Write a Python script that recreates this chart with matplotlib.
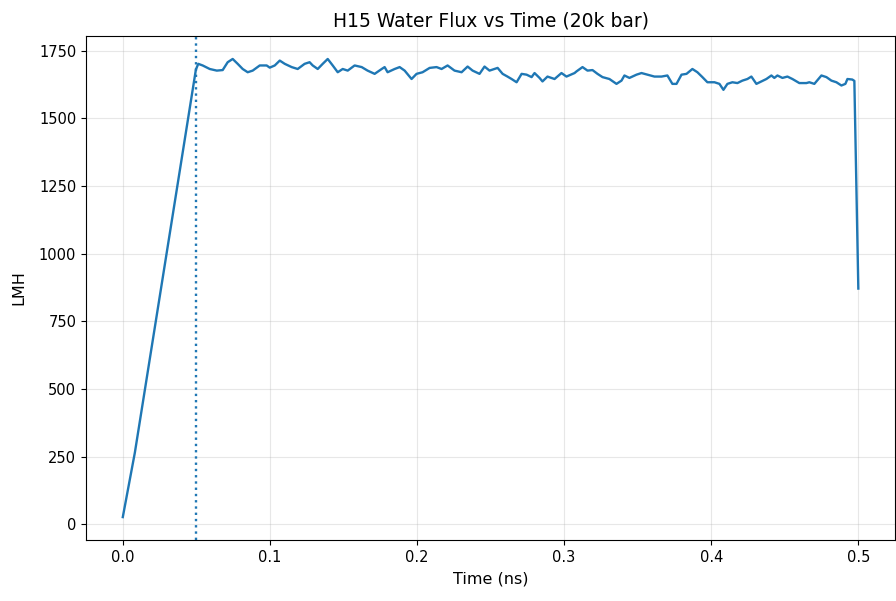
#!/usr/bin/env python3
"""Water flux (LMH) over simulation time for the H15 membrane at 20k bar."""

import matplotlib
matplotlib.use("Agg")
import matplotlib.pyplot as plt

TITLE = "H15 Water Flux vs Time (20k bar)"
EQUIL_TIME = 0.05  # ns, marked with a dotted line

# values
time_ns = [
    0.0, 0.0082, 0.0497, 0.0513, 0.0543, 0.0591, 0.0639, 0.0679, 0.0713, 0.0747,
    0.0781, 0.0815, 0.0849, 0.0883, 0.0931, 0.0978, 0.0999, 0.1033, 0.1067, 0.1101,
    0.1148, 0.1189, 0.1236, 0.1270, 0.1291, 0.1325, 0.1359, 0.1393, 0.1427, 0.1461,
    0.1495, 0.1529, 0.1576, 0.1624, 0.1664, 0.1712, 0.1760, 0.1780, 0.1800, 0.1848,
    0.1882, 0.1916, 0.1963, 0.1997, 0.2038, 0.2086, 0.2133, 0.2167, 0.2208, 0.2255,
    0.2303, 0.2344, 0.2378, 0.2425, 0.2459, 0.2493, 0.2527, 0.2548, 0.2582, 0.2615,
    0.2643, 0.2677, 0.2711, 0.2745, 0.2779, 0.2799, 0.2833, 0.2853, 0.2887, 0.2935,
    0.2982, 0.3016, 0.3071, 0.3084, 0.3125, 0.3159, 0.3193, 0.3227, 0.3261, 0.3308,
    0.3356, 0.3390, 0.3410, 0.3444, 0.3492, 0.3526, 0.3567, 0.3614, 0.3662, 0.3702,
    0.3736, 0.3764, 0.3798, 0.3832, 0.3872, 0.3906, 0.3940, 0.3974, 0.4022, 0.4056,
    0.4083, 0.4110, 0.4144, 0.4178, 0.4212, 0.4246, 0.4273, 0.4307, 0.4341, 0.4375,
    0.4409, 0.4429, 0.4450, 0.4484, 0.4518, 0.4552, 0.4599, 0.4647, 0.4667, 0.4701,
    0.4749, 0.4783, 0.4817, 0.4851, 0.4885, 0.4912, 0.4926, 0.4959, 0.4973, 0.5000,
]
flux_lmh = [
    27, 265, 1680, 1701, 1695, 1682, 1676, 1678, 1707, 1719,
    1701, 1682, 1670, 1676, 1695, 1695, 1687, 1695, 1713, 1701,
    1689, 1682, 1701, 1707, 1695, 1682, 1701, 1719, 1695, 1670,
    1682, 1676, 1695, 1689, 1676, 1664, 1682, 1689, 1670, 1682,
    1689, 1676, 1645, 1664, 1670, 1686, 1689, 1682, 1695, 1676,
    1670, 1691, 1676, 1664, 1691, 1676, 1682, 1686, 1664, 1654,
    1645, 1633, 1664, 1661, 1652, 1667, 1649, 1636, 1654, 1645,
    1667, 1654, 1667, 1673, 1689, 1676, 1678, 1664, 1652, 1645,
    1627, 1639, 1658, 1649, 1661, 1667, 1661, 1654, 1654, 1658,
    1627, 1627, 1661, 1664, 1682, 1670, 1652, 1633, 1633, 1627,
    1605, 1627, 1633, 1630, 1639, 1645, 1654, 1627, 1636, 1645,
    1658, 1649, 1658, 1649, 1654, 1645, 1630, 1630, 1633, 1627,
    1658, 1652, 1639, 1633, 1621, 1627, 1645, 1643, 1638, 871,
]


def main() -> None:
    fig = plt.figure(figsize=(8.96, 6.01), dpi=100)
    ax = fig.add_axes([0.096, 0.1015, 0.903, 0.8385])

    ax.plot(time_ns, flux_lmh, color="tab:blue", linewidth=1.7)
    ax.axvline(EQUIL_TIME, color="tab:blue", linestyle=":", linewidth=1.7)

    ax.set_title(TITLE, fontsize=13.5, pad=7)
    ax.set_xlabel("Time (ns)", fontsize=11.5, labelpad=5)
    ax.set_ylabel("LMH", fontsize=11.5, labelpad=9)
    ax.tick_params(labelsize=10.5)
    ax.grid(True, alpha=0.3)

    fig.savefig("out.png", dpi=100)


if __name__ == "__main__":
    main()
